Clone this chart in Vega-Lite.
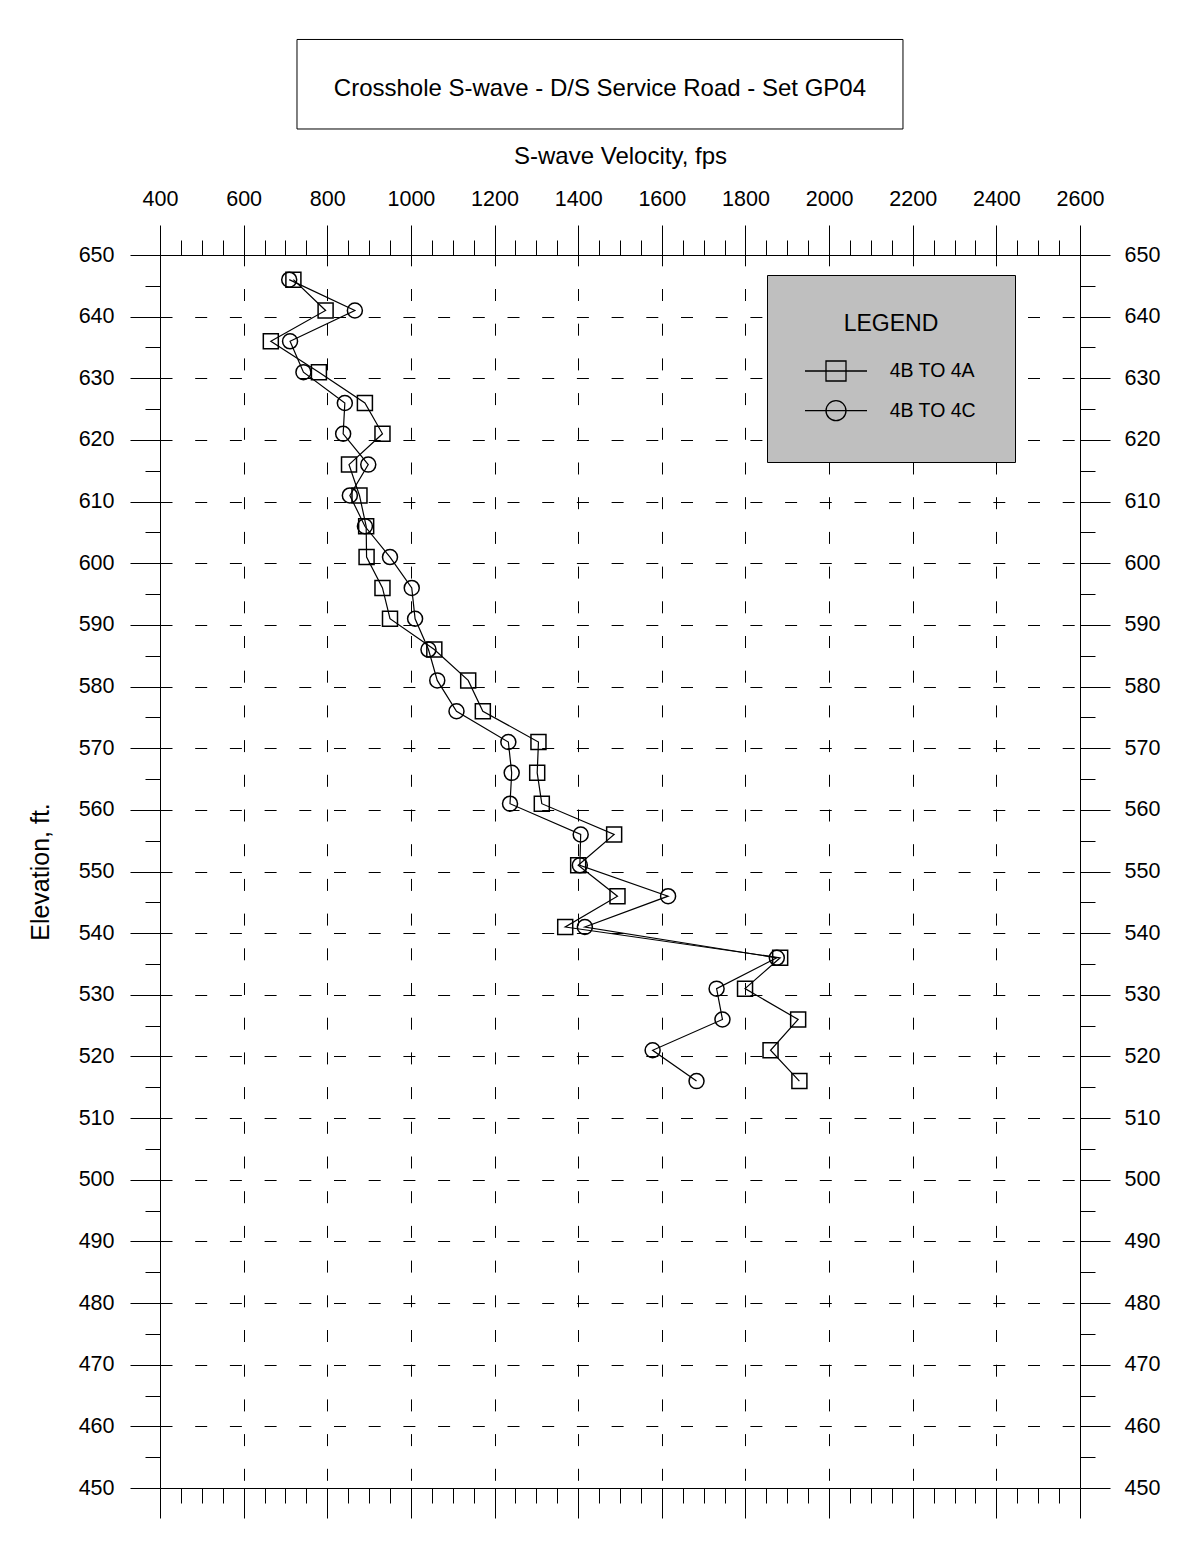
{
  "$schema": "https://vega.github.io/schema/vega-lite/v6.json",
  "background": "white",
  "autosize": {"type": "none"},
  "padding": {"left": 160, "top": 255, "right": 99, "bottom": 61},
  "width": 920,
  "height": 1233,
  "config": {
    "font": "Liberation Sans",
    "view": {"stroke": null},
    "axis": {
      "domainColor": "black", "domainWidth": 1, "tickColor": "black", "tickWidth": 1,
      "labelColor": "black", "labelFontSize": 21.5, "titleColor": "black", "titleFontWeight": "normal",
      "gridColor": "black", "gridWidth": 1, "gridDash": [12, 22.7]
    }
  },
  "data": {"values": [
    {"series": "4B TO 4A", "elev": 646, "v": 719},
    {"series": "4B TO 4A", "elev": 641, "v": 796},
    {"series": "4B TO 4A", "elev": 636, "v": 665},
    {"series": "4B TO 4A", "elev": 631, "v": 780},
    {"series": "4B TO 4A", "elev": 626, "v": 890},
    {"series": "4B TO 4A", "elev": 621, "v": 932},
    {"series": "4B TO 4A", "elev": 616, "v": 852},
    {"series": "4B TO 4A", "elev": 611, "v": 877},
    {"series": "4B TO 4A", "elev": 606, "v": 893},
    {"series": "4B TO 4A", "elev": 601, "v": 894},
    {"series": "4B TO 4A", "elev": 596, "v": 932},
    {"series": "4B TO 4A", "elev": 591, "v": 950},
    {"series": "4B TO 4A", "elev": 586, "v": 1056},
    {"series": "4B TO 4A", "elev": 581, "v": 1137},
    {"series": "4B TO 4A", "elev": 576, "v": 1172},
    {"series": "4B TO 4A", "elev": 571, "v": 1305},
    {"series": "4B TO 4A", "elev": 566, "v": 1302},
    {"series": "4B TO 4A", "elev": 561, "v": 1313},
    {"series": "4B TO 4A", "elev": 556, "v": 1486},
    {"series": "4B TO 4A", "elev": 551, "v": 1400},
    {"series": "4B TO 4A", "elev": 546, "v": 1494},
    {"series": "4B TO 4A", "elev": 541, "v": 1369},
    {"series": "4B TO 4A", "elev": 536, "v": 1883},
    {"series": "4B TO 4A", "elev": 531, "v": 1799},
    {"series": "4B TO 4A", "elev": 526, "v": 1926},
    {"series": "4B TO 4A", "elev": 521, "v": 1860},
    {"series": "4B TO 4A", "elev": 516, "v": 1929},
    {"series": "4B TO 4C", "elev": 646, "v": 709},
    {"series": "4B TO 4C", "elev": 641, "v": 866},
    {"series": "4B TO 4C", "elev": 636, "v": 711},
    {"series": "4B TO 4C", "elev": 631, "v": 743},
    {"series": "4B TO 4C", "elev": 626, "v": 842},
    {"series": "4B TO 4C", "elev": 621, "v": 838},
    {"series": "4B TO 4C", "elev": 616, "v": 898},
    {"series": "4B TO 4C", "elev": 611, "v": 854},
    {"series": "4B TO 4C", "elev": 606, "v": 890},
    {"series": "4B TO 4C", "elev": 601, "v": 950},
    {"series": "4B TO 4C", "elev": 596, "v": 1002},
    {"series": "4B TO 4C", "elev": 591, "v": 1010},
    {"series": "4B TO 4C", "elev": 586, "v": 1042},
    {"series": "4B TO 4C", "elev": 581, "v": 1063},
    {"series": "4B TO 4C", "elev": 576, "v": 1109},
    {"series": "4B TO 4C", "elev": 571, "v": 1233},
    {"series": "4B TO 4C", "elev": 566, "v": 1241},
    {"series": "4B TO 4C", "elev": 561, "v": 1237},
    {"series": "4B TO 4C", "elev": 556, "v": 1406},
    {"series": "4B TO 4C", "elev": 551, "v": 1404},
    {"series": "4B TO 4C", "elev": 546, "v": 1615},
    {"series": "4B TO 4C", "elev": 541, "v": 1416},
    {"series": "4B TO 4C", "elev": 536, "v": 1875},
    {"series": "4B TO 4C", "elev": 531, "v": 1731},
    {"series": "4B TO 4C", "elev": 526, "v": 1745},
    {"series": "4B TO 4C", "elev": 521, "v": 1578},
    {"series": "4B TO 4C", "elev": 516, "v": 1683}
  ]},
  "resolve": {"axis": {"x": "independent", "y": "independent"}, "scale": {"shape": "independent"}, "legend": {"shape": "independent"}},
  "layer": [
    {
      "mark": {"type": "line", "color": "black", "strokeWidth": 1.2},
      "encoding": {
        "x": {
          "field": "v", "type": "quantitative",
          "scale": {"domain": [400, 2600], "nice": false, "zero": false},
          "axis": {
            "orient": "top", "title": "S-wave Velocity, fps", "titleFontSize": 24, "titlePadding": 20,
            "values": [400,450,500,550,600,650,700,750,800,850,900,950,1000,1050,1100,1150,1200,1250,1300,1350,1400,1450,1500,1550,1600,1650,1700,1750,1800,1850,1900,1950,2000,2050,2100,2150,2200,2250,2300,2350,2400,2450,2500,2550,2600],
            "format": "d",
            "labelExpr": "datum.value % 200 === 0 ? datum.label : ''",
            "tickSize": {"condition": {"test": "datum.value % 200 === 0", "value": 30}, "value": 15},
            "labelPadding": 14.5,
            "labelFlush": false, "labelOverlap": false,
            "grid": true,
            "gridOpacity": {"condition": {"test": "datum.value % 200 === 0", "value": 1}, "value": 0},
            "gridDashOffset": 27
          }
        },
        "y": {
          "field": "elev", "type": "quantitative",
          "scale": {"domain": [450, 650], "nice": false, "zero": false},
          "axis": {
            "orient": "left", "title": "Elevation, ft.", "titleFontSize": 25, "titlePadding": 25,
            "values": [450,455,460,465,470,475,480,485,490,495,500,505,510,515,520,525,530,535,540,545,550,555,560,565,570,575,580,585,590,595,600,605,610,615,620,625,630,635,640,645,650],
            "format": "d",
            "labelExpr": "datum.value % 10 === 0 ? datum.label : ''",
            "tickSize": {"condition": {"test": "datum.value % 10 === 0", "value": 30}, "value": 15},
            "labelPadding": 16,
            "labelFlush": false, "labelOverlap": false,
            "grid": true,
            "gridOpacity": {"condition": {"test": "datum.value % 10 === 0", "value": 1}, "value": 0},
            "gridDashOffset": 0
          }
        },
        "detail": {"field": "series", "type": "nominal"},
        "order": {"field": "elev", "type": "quantitative", "sort": "descending"}
      }
    },
    {
      "mark": {"type": "point", "filled": false, "color": "black", "strokeWidth": 1.5, "size": 225, "opacity": 1},
      "encoding": {
        "x": {
          "field": "v", "type": "quantitative",
          "axis": {
            "orient": "bottom", "title": null, "labels": false, "grid": false,
            "values": [400,450,500,550,600,650,700,750,800,850,900,950,1000,1050,1100,1150,1200,1250,1300,1350,1400,1450,1500,1550,1600,1650,1700,1750,1800,1850,1900,1950,2000,2050,2100,2150,2200,2250,2300,2350,2400,2450,2500,2550,2600],
            "tickSize": {"condition": {"test": "datum.value % 200 === 0", "value": 30}, "value": 15}
          }
        },
        "y": {
          "field": "elev", "type": "quantitative",
          "axis": {
            "orient": "right", "title": null, "grid": false,
            "values": [450,455,460,465,470,475,480,485,490,495,500,505,510,515,520,525,530,535,540,545,550,555,560,565,570,575,580,585,590,595,600,605,610,615,620,625,630,635,640,645,650],
            "format": "d",
            "labelExpr": "datum.value % 10 === 0 ? datum.label : ''",
            "tickSize": {"condition": {"test": "datum.value % 10 === 0", "value": 30}, "value": 15},
            "labelPadding": 14,
            "labelFlush": false, "labelOverlap": false
          }
        },
        "shape": {
          "field": "series", "type": "nominal",
          "scale": {"domain": ["4B TO 4A", "4B TO 4C"], "range": ["square", "circle"]},
          "legend": null
        }
      }
    },
    {
      "transform": [{"filter": "false"}],
      "mark": {"type": "point", "filled": false, "color": "black", "strokeWidth": 1.3, "size": 400, "opacity": 1},
      "encoding": {
        "shape": {
          "field": "series", "type": "nominal",
          "scale": {"domain": ["4B TO 4A", "4B TO 4C"], "range": ["M-3.1,0H3.1M-1,-1H1V1H-1Z", "M-3.1,0H3.1M1,0A1,1,0,1,1,-1,0A1,1,0,1,1,1,0Z"]},
          "legend": {
            "orient": "none", "legendX": 607, "legendY": 20,
            "title": "LEGEND", "titleAnchor": "middle", "titleFontSize": 23, "titleFontWeight": "normal",
            "titleColor": "black", "titlePadding": 24,
            "labelFontSize": 19.5, "labelColor": "black", "labelOffset": 42.7,
            "symbolSize": 400, "symbolStrokeColor": "black", "symbolStrokeWidth": 1.3,
            "symbolFillColor": "transparent", "symbolOffset": 20, "symbolOpacity": 1,
            "rowPadding": 13.7, "padding": 38,
            "fillColor": "#bfbfbf", "strokeColor": "black"
          }
        }
      }
    },
    {
      "data": {"values": [{"box": "title"}]},
      "mark": {"type": "rect", "fill": "transparent", "stroke": "black", "strokeWidth": 1},
      "encoding": {
        "x": {"datum": 727.6, "type": "quantitative", "axis": null},
        "x2": {"datum": 2176.7},
        "y": {"datum": 684.96, "type": "quantitative", "axis": null},
        "y2": {"datum": 670.44}
      }
    },
    {
      "data": {"values": [{"box": "title"}]},
      "mark": {"type": "text", "fontSize": 24, "color": "black", "align": "center", "baseline": "middle", "text": "Crosshole S-wave  - D/S Service Road - Set GP04"},
      "encoding": {
        "x": {"datum": 1452, "type": "quantitative", "axis": null},
        "y": {"datum": 676.9, "type": "quantitative", "axis": null}
      }
    }
  ]
}
